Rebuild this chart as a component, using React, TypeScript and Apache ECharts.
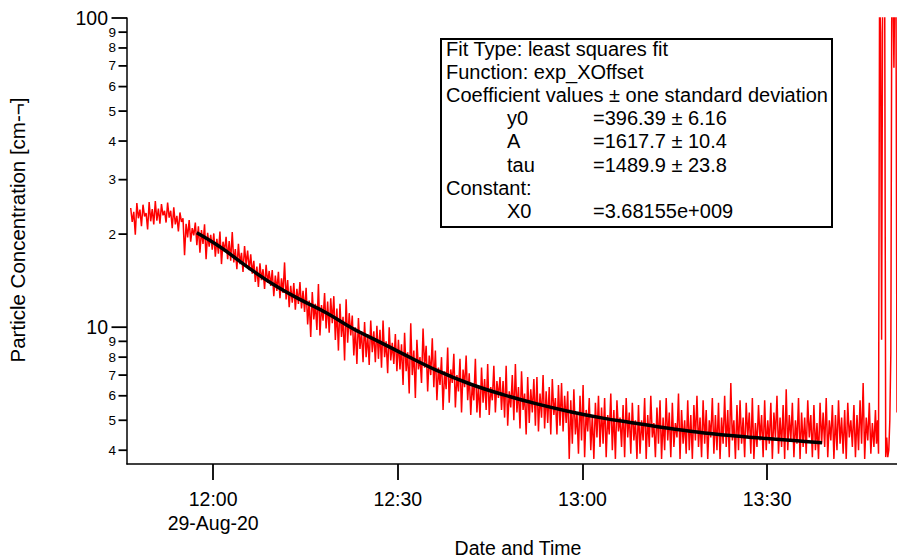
import React, { useEffect, useRef } from "react";
import * as echarts from "echarts";

// ---- data ----
const chartDate = [2020, 7, 29]; // 29-Aug-20 (month is 0-based)
const dateLabel = "29-Aug-20";
const axisMinTime = "11:46:00";
const axisMaxTime = "13:51:06";

// red measured trace: its peaks (every 30 s from peakStart) and the troughs between them
const peakStart = "11:46:36";
const troughStart = "11:46:51";
const stepSeconds = 30;
const redPeaks = [
  24.3, 23.6, 25.2, 24.0, 24.9, 23.4, 25.4, 24.1,
  25.6, 24.2, 25.0, 23.8, 25.3,
  23.8, 24.4, 22.9, 23.5,
  22.5, 21.6, 22.2, 20.9, 21.8,
  21.2, 20.6, 21.5, 20.2, 19.9,
  20.1, 19.3, 20.4, 18.9, 19.6, 19.0,
  20.3, 17.9, 18.6, 17.4, 18.3, 17.7, 17.2,
  16.4, 15.7, 16.1, 15.4, 15.9, 15.2,
  15.3, 14.7, 15.1, 14.4, 16.2,
  14.2, 13.6, 13.9, 13.3, 14.0, 13.1,
  13.4, 12.2, 13.0, 11.9, 13.8, 11.8, 12.9, 12.1, 12.4,
  12.6, 11.5, 11.9, 10.8, 12.3, 11.1,
  10.9, 10.0, 10.7, 9.7, 10.4, 9.5, 10.5, 9.7, 10.1,
  9.8, 10.5, 9.0, 10.0, 8.9, 9.5, 9.1,
  8.8, 9.6, 8.3, 10.3, 8.4, 9.1, 8.0, 9.9, 8.7, 8.1, 9.2,
  8.4, 7.4, 8.0, 7.2, 8.6, 7.3, 8.2, 7.0, 7.9, 7.3, 8.1,
  7.1, 6.6, 7.9, 6.5, 7.4, 6.8, 7.6, 6.4, 7.5, 6.7, 6.9,
  6.7, 7.5, 6.2, 7.0, 7.6, 6.4, 7.2, 6.1, 6.9, 6.3, 6.8,
  6.9, 6.1, 7.0, 6.2, 6.4, 6.8, 5.9, 6.5, 6.6, 6.0, 6.2,
  5.8, 6.3, 5.3, 6.0, 6.5, 5.4, 5.9, 5.2, 5.7, 6.0,
  5.5, 5.9, 5.2, 6.1, 5.4, 5.8, 5.1, 5.6, 5.9, 5.3, 5.7, 5.0,
  5.6, 5.0, 5.9, 5.2, 6.0, 4.9, 5.5, 5.8, 5.1, 5.9,
  5.3, 5.7, 4.9, 6.1, 5.4, 5.0, 5.8, 5.2, 5.6, 6.0,
  5.1, 5.8, 5.4, 5.0, 5.9, 5.2, 5.7, 5.1, 6.0, 5.4,
  6.6, 5.0, 5.6, 5.8, 5.1, 5.7, 5.3, 5.9, 4.9, 5.6,
  5.2, 5.8, 5.0, 5.7, 5.3, 6.0, 5.1, 5.6, 6.3, 5.2,
  5.7, 5.0, 5.9, 5.3, 5.1, 5.8, 5.2, 5.6, 4.9, 5.7,
  5.3, 5.9, 5.0, 5.6, 5.2, 5.8, 5.1, 5.4, 5.7, 5.0,
  5.6, 5.2, 5.8, 6.6, 5.1, 5.7, 4.9, 5.4,
];
const redTroughs = [
  21.9, 19.9, 22.5, 21.2, 22.8, 20.7, 22.0, 21.5,
  22.1, 21.6, 23.0, 21.8, 22.6,
  20.9, 21.5, 20.4, 21.9,
  17.1, 19.5, 18.9, 19.8, 18.4,
  17.4, 18.6, 16.6, 18.2, 17.8,
  16.9, 17.3, 16.0, 17.6, 16.6, 16.4,
  16.2, 15.4, 16.0, 15.1, 15.9, 15.3, 14.9,
  14.0, 13.5, 14.2, 13.3, 13.9, 13.6,
  12.6, 13.1, 12.4, 12.9, 12.3,
  11.6, 12.0, 11.4, 11.9, 11.5, 11.2,
  10.2, 9.3, 10.6, 9.8, 9.4, 10.5, 9.9, 9.6, 10.3,
  9.1, 8.4, 9.3, 7.8, 8.9, 9.4,
  8.1, 7.6, 8.5, 7.7, 8.0, 7.55, 8.3, 7.7, 7.9,
  7.4, 8.0, 7.1, 7.8, 7.6, 7.2, 7.3,
  6.5, 7.2, 6.1, 7.0, 5.9, 7.3, 6.6, 7.4, 6.2, 7.0, 6.4,
  5.8, 6.5, 5.4, 6.3, 5.7, 6.6, 5.5, 6.2, 5.3, 6.4, 5.8,
  5.2, 5.8, 5.3, 5.1, 5.7, 5.4, 5.2, 5.8, 5.3, 5.9, 5.4,
  5.1, 4.8, 5.5, 5.0, 5.3, 4.7, 5.4, 4.5, 4.9, 5.3, 4.8,
  4.6, 5.1, 4.7, 4.9, 4.5, 5.2, 4.5, 4.8, 4.6, 4.9, 3.75,
  4.2, 4.5, 3.9, 4.3, 3.8, 4.6, 4.0, 3.75, 4.4, 4.1,
  4.2, 3.8, 4.5, 4.0, 3.75, 4.6, 4.1, 3.8, 4.4, 3.9, 4.3, 3.75,
  3.9, 4.3, 3.75, 4.1, 4.4, 3.8, 4.2, 3.75, 4.0, 4.3,
  3.8, 4.1, 4.4, 3.75, 4.2, 3.9, 4.0, 3.75, 4.3, 4.1,
  3.8, 4.2, 3.75, 4.4, 3.9, 4.0, 3.75, 4.2, 4.1, 3.8,
  4.3, 3.75, 4.0, 4.2, 3.8, 4.4, 3.9, 3.75, 4.1, 4.3,
  3.8, 4.0, 4.2, 3.75, 4.4, 3.9, 4.1, 3.75, 4.0, 4.3,
  3.8, 4.2, 3.75, 4.1, 3.9, 4.4, 3.8, 4.0, 3.75, 4.2,
  4.1, 3.8, 4.3, 3.75, 4.0, 4.2, 3.9, 3.75, 4.4, 4.1,
  3.8, 4.0, 4.2, 3.75, 4.3, 3.9, 4.1,
];

// end of the trace, sampled every 10 s from tailStart
const tailStart = "13:47:46";
const tailStepSeconds = 10;
const tailValues = [
  4.2, 5.0, 3.9, 120, 90, 9.1, 130, 110, 125, 3.8, 4.4, 3.8, 4.0, 5.0, 8.3,
  150, 140, 69, 150, 130, 5.3,
];

// black fitted curve
const fitTimes = [
  "11:57:20", "12:01:05", "12:05:30", "12:09:40", "12:14:05", "12:18:30",
  "12:22:40", "12:27:05", "12:30:50", "12:36:20", "12:41:45", "12:47:05",
  "12:52:35", "12:58:00", "13:03:20", "13:07:45", "13:13:05", "13:18:35",
  "13:24:00", "13:29:20", "13:34:50", "13:38:55",
];
const fitValues = [
  20.2, 18.2, 15.7, 13.8, 12.3, 11.1, 9.9, 8.95, 8.2, 7.25, 6.55, 6.05,
  5.65, 5.33, 5.08, 4.92, 4.74, 4.58, 4.46, 4.37, 4.29, 4.23,
];

// y axis (log) ticks
const yMin = 3.61;
const yMax = 100;
const yTickValues = [4, 5, 6, 7, 8, 9, 10, 20, 30, 40, 50, 60, 70, 80, 90, 100];
const yTickLabels = ["4", "5", "6", "7", "8", "9", "10", "2", "3", "4", "5", "6", "7", "8", "9", "100"];
const yMajorTicks = [10, 100];

const xTitle = "Date and Time";
const yTitle = "Particle Concentration [cm-\u00AC]";

// fit annotation
const fitHeaderLines = [
  "Fit Type: least squares fit",
  "Function: exp_XOffset",
  "Coefficient values \u00B1 one standard deviation",
];
const fitCoefNames = ["y0", "A", "tau"];
const fitCoefValues = ["=396.39 \u00B1 6.16", "=1617.7 \u00B1 10.4", "=1489.9 \u00B1 23.8"];
const constantHeader = "Constant:";
const constantNames = ["X0"];
const constantValues = ["=3.68155e+009"];

// ---- helpers ----
const FONT = '"Liberation Sans", Arial, Helvetica, sans-serif';
const toTs = (hms: string) => {
  const [h, m, s] = hms.split(":").map(Number);
  return new Date(chartDate[0], chartDate[1], chartDate[2], h, m, s || 0).getTime();
};
const pad2 = (n: number) => (n < 10 ? "0" + n : "" + n);

export default function App() {
  const ref = useRef<HTMLDivElement>(null);

  useEffect(() => {
    if (!ref.current) return;
    const chart = echarts.init(ref.current, null, { renderer: "svg" });

    const tP = toTs(peakStart);
    const tT = toTs(troughStart);
    const tailT0 = toTs(tailStart);
    const redData: number[][] = [];
    redPeaks.forEach((v, i) => {
      redData.push([tP + i * stepSeconds * 1000, v]);
      if (i < redTroughs.length) redData.push([tT + i * stepSeconds * 1000, redTroughs[i]]);
    });
    tailValues.forEach((v, i) => redData.push([tailT0 + i * tailStepSeconds * 1000, v]));
    const fitData = fitTimes.map((t, i) => [toTs(t), fitValues[i]]);
    const xMin = toTs(axisMinTime);
    const xMax = toTs(axisMaxTime);

    const lineH = 23.2;
    const y0 = 48.5;
    const textStyle = (text: string) => ({
      text,
      fontSize: 20,
      fontFamily: FONT,
      fill: "#000",
      align: "left",
      verticalAlign: "middle",
    });
    const boxTexts: any[] = [];
    fitHeaderLines.forEach((t, i) =>
      boxTexts.push({ type: "text", x: 446, y: y0 + i * lineH, style: textStyle(t) })
    );
    fitCoefNames.forEach((n, i) => {
      boxTexts.push({ type: "text", x: 507, y: y0 + (3 + i) * lineH, style: textStyle(n) });
      boxTexts.push({ type: "text", x: 593, y: y0 + (3 + i) * lineH, style: textStyle(fitCoefValues[i]) });
    });
    boxTexts.push({ type: "text", x: 446, y: y0 + 6 * lineH, style: textStyle(constantHeader) });
    constantNames.forEach((n, i) => {
      boxTexts.push({ type: "text", x: 507, y: y0 + (7 + i) * lineH, style: textStyle(n) });
      boxTexts.push({ type: "text", x: 593, y: y0 + (7 + i) * lineH, style: textStyle(constantValues[i]) });
    });

    const option: any = {
      animation: false,
      grid: { left: 127, top: 18, right: 0, bottom: 95, containLabel: false },
      xAxis: {
        type: "time",
        min: xMin,
        max: xMax,
        splitNumber: 4,
        minInterval: 31 * 60 * 1000,
        maxInterval: 45 * 60 * 1000,
        splitLine: { show: false },
        minorTick: { show: false },
        axisLine: { show: true, onZero: false, lineStyle: { color: "#000", width: 1.5 } },
        axisTick: { show: true, length: 16, lineStyle: { color: "#000", width: 1.8 } },
        axisLabel: {
          color: "#000",
          fontSize: 19.5,
          fontFamily: FONT,
          lineHeight: 24,
          margin: 23,
          hideOverlap: false,
          showMinLabel: false,
          showMaxLabel: false,
          formatter: (val: number) => {
            const d = new Date(val);
            const s = pad2(d.getHours()) + ":" + pad2(d.getMinutes());
            return s === "12:00" ? s + "\n" + dateLabel : s;
          },
        },
      },
      yAxis: {
        type: "log",
        logBase: 10,
        min: yMin,
        max: yMax,
        splitLine: { show: false },
        minorTick: { show: false },
        axisTick: { show: false },
        axisLabel: { show: false },
        axisLine: { show: true, lineStyle: { color: "#000", width: 1.5 } },
      },
      series: [
        {
          type: "line",
          data: redData,
          symbol: "none",
          showSymbol: false,
          clip: true,
          lineStyle: { color: "#ff0000", width: 1.5 },
          z: 2,
          silent: true,
        },
        {
          type: "line",
          data: fitData,
          symbol: "none",
          showSymbol: false,
          smooth: 0.4,
          clip: true,
          lineStyle: { color: "#000", width: 3.5 },
          z: 3,
          silent: true,
        },
        {
          type: "custom",
          clip: false,
          silent: true,
          z: 5,
          data: yTickValues.map((v, i) => [xMin, v, i]),
          encode: { x: 0, y: 1 },
          renderItem: (params: any, api: any) => {
            const v = api.value(1);
            const idx = api.value(2);
            const p = api.coord([api.value(0), v]);
            const major = yMajorTicks.indexOf(v) >= 0;
            const len = major ? 15.5 : 8.5;
            const gap = major ? 3.5 : 2.5;
            return {
              type: "group",
              children: [
                {
                  type: "line",
                  shape: { x1: p[0] - len, y1: p[1], x2: p[0], y2: p[1] },
                  style: { stroke: "#000", lineWidth: 1.8 },
                },
                {
                  type: "text",
                  x: p[0] - len - gap,
                  y: p[1],
                  style: {
                    text: yTickLabels[idx],
                    fontSize: major ? 19.5 : 13.5,
                    fontFamily: FONT,
                    fill: "#000",
                    align: "right",
                    verticalAlign: "middle",
                  },
                },
              ],
            };
          },
        },
      ],
      graphic: [
        {
          type: "rect",
          z: 10,
          shape: { x: 441, y: 39, width: 391, height: 188 },
          style: { fill: "#fff", stroke: "#000", lineWidth: 2 },
        },
        ...boxTexts.map((t) => ({ ...t, z: 11 })),
        {
          type: "text",
          x: 518,
          y: 548,
          style: {
            text: xTitle,
            fontSize: 19.5,
            fontFamily: FONT,
            fill: "#000",
            align: "center",
            verticalAlign: "middle",
          },
        },
        {
          type: "text",
          x: 17,
          y: 230,
          rotation: Math.PI / 2,
          style: {
            text: yTitle,
            fontSize: 20.5,
            fontFamily: FONT,
            fill: "#000",
            align: "center",
            verticalAlign: "middle",
          },
        },
      ],
    };

    chart.setOption(option);
    return () => chart.dispose();
  }, []);

  return (
    <div
      ref={ref}
      style={{ position: "absolute", left: 0, top: 0, width: 897, height: 559, background: "#fff" }}
    />
  );
}
